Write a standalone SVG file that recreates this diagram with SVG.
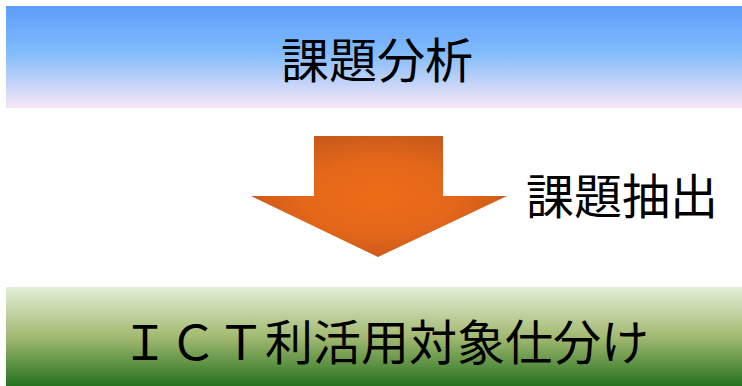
<svg xmlns="http://www.w3.org/2000/svg" width="742" height="386" viewBox="0 0 742 386">
<style>
.t{font-family:"Noto Sans CJK JP","Noto Sans",sans-serif;font-size:48px;font-weight:400;fill:#000;text-anchor:middle}
</style>
<defs>
<linearGradient id="gTop" x1="0" y1="0" x2="0" y2="1">
<stop offset="0" stop-color="#5d9cfb"/>
<stop offset="0.45" stop-color="#80bbfb"/>
<stop offset="1" stop-color="#f8e6f6"/>
</linearGradient>
<linearGradient id="gBot" x1="0" y1="0" x2="0" y2="1">
<stop offset="0" stop-color="#e2eed8"/>
<stop offset="0.5" stop-color="#a3ba72"/>
<stop offset="1" stop-color="#26721f"/>
</linearGradient>
<radialGradient id="gArr" cx="0.5" cy="0.5" r="0.6">
<stop offset="0" stop-color="#ec6c17"/>
<stop offset="0.5" stop-color="#e4671a"/>
<stop offset="1" stop-color="#c0561a"/>
</radialGradient>
</defs>
<g id="top">
<rect x="6" y="6" width="736" height="102" fill="url(#gTop)"/>
<text class="t" x="377" y="78">課題分析</text>
</g>
<g id="connectors">
<polygon points="314,136 443,136 443,196 507,196 378,257 251,196 314,196" fill="url(#gArr)"/>
</g>
<g id="label">
<text class="t" x="622" y="214">課題抽出</text>
</g>
<g id="bottom">
<rect x="6" y="287" width="736" height="99" fill="url(#gBot)"/>
<text class="t" x="385" y="360">ＩＣＴ利活用対象仕分け</text>
</g>
</svg>
